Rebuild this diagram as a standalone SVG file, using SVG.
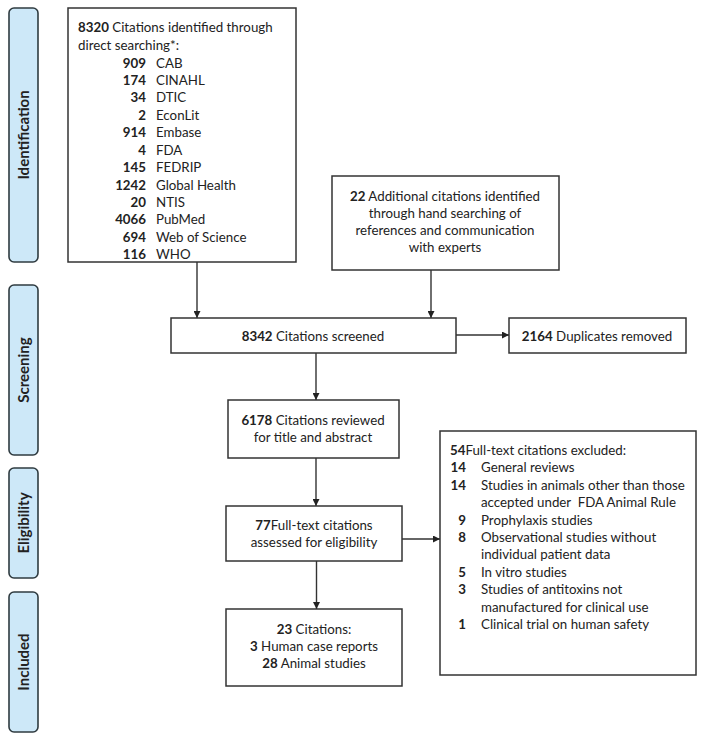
<svg xmlns="http://www.w3.org/2000/svg" width="704" height="741" viewBox="0 0 704 741">
<style>
.bg{fill:#ffffff}
.phase{fill:#cde8f8;stroke:#2f3b40;stroke-width:1.6}
.ph{font-family:Lato,"Liberation Sans",sans-serif;font-size:15px;font-weight:bold;fill:#222;text-anchor:middle}
.box{fill:#ffffff;stroke:#333;stroke-width:1.5}
.t{font-family:Lato,"Liberation Sans",sans-serif;font-size:13.3px;fill:#222}
.c{text-anchor:middle}
.e{text-anchor:end}
.b{font-weight:bold}
.ln{stroke:#333;stroke-width:1.4;fill:none}
</style>
<defs>
<marker id="ah" viewBox="0 0 10 10" refX="10" refY="5" markerWidth="7" markerHeight="7" markerUnits="userSpaceOnUse" orient="auto">
<path d="M0,0 L10,5 L0,10 z" fill="#222"/>
</marker>
</defs>
<rect class="bg" x="0" y="0" width="704" height="741"/>
<g id="phases">
<g id="phase-identification"><rect class="phase" x="9" y="8" width="29" height="254" rx="5"/><text class="ph" transform="translate(28.5,135) rotate(-90)">Identification</text></g>
<g id="phase-screening"><rect class="phase" x="9" y="285" width="29" height="170" rx="5"/><text class="ph" transform="translate(28.5,370) rotate(-90)">Screening</text></g>
<g id="phase-eligibility"><rect class="phase" x="9" y="468" width="29" height="110" rx="5"/><text class="ph" transform="translate(28.5,523) rotate(-90)">Eligibility</text></g>
<g id="phase-included"><rect class="phase" x="9" y="592" width="29" height="140" rx="5"/><text class="ph" transform="translate(28.5,662) rotate(-90)">Included</text></g>
</g>
<g id="connectors">
<line class="ln" x1="197" y1="262" x2="197" y2="318" marker-end="url(#ah)"/>
<line class="ln" x1="431" y1="270" x2="431" y2="318" marker-end="url(#ah)"/>
<line class="ln" x1="456" y1="335" x2="509" y2="335" marker-end="url(#ah)"/>
<line class="ln" x1="316" y1="353" x2="316" y2="400" marker-end="url(#ah)"/>
<line class="ln" x1="316" y1="458" x2="316" y2="506" marker-end="url(#ah)"/>
<line class="ln" x1="316.5" y1="561" x2="316.5" y2="609" marker-end="url(#ah)"/>
<line class="ln" x1="402" y1="539" x2="440" y2="539" marker-end="url(#ah)"/>
</g>
<g id="node-direct">
<rect class="box" x="68" y="8" width="228" height="254"/>
<text class="t" x="78" y="32"><tspan class="b">8320</tspan> Citations identified through</text>
<text class="t" x="78" y="50">direct searching*:</text>
<text class="t e b" x="146" y="67.5">909</text><text class="t" x="156" y="67.5">CAB</text>
<text class="t e b" x="146" y="85">174</text><text class="t" x="156" y="85">CINAHL</text>
<text class="t e b" x="146" y="102.3">34</text><text class="t" x="156" y="102.3">DTIC</text>
<text class="t e b" x="146" y="119.7">2</text><text class="t" x="156" y="119.7">EconLit</text>
<text class="t e b" x="146" y="137">914</text><text class="t" x="156" y="137">Embase</text>
<text class="t e b" x="146" y="154.5">4</text><text class="t" x="156" y="154.5">FDA</text>
<text class="t e b" x="146" y="172">145</text><text class="t" x="156" y="172">FEDRIP</text>
<text class="t e b" x="146" y="189.5">1242</text><text class="t" x="156" y="189.5">Global Health</text>
<text class="t e b" x="146" y="207">20</text><text class="t" x="156" y="207">NTIS</text>
<text class="t e b" x="146" y="224.3">4066</text><text class="t" x="156" y="224.3">PubMed</text>
<text class="t e b" x="146" y="241.7">694</text><text class="t" x="156" y="241.7">Web of Science</text>
<text class="t e b" x="146" y="259">116</text><text class="t" x="156" y="259">WHO</text>
</g>
<g id="node-additional">
<rect class="box" x="332" y="176" width="227" height="94"/>
<text class="t c" x="445" y="200.5"><tspan class="b">22</tspan> Additional citations identified</text>
<text class="t c" x="445" y="217.7">through hand searching of</text>
<text class="t c" x="445" y="235">references and communication</text>
<text class="t c" x="445" y="252">with experts</text>
</g>
<g id="node-screened">
<rect class="box" x="171" y="318" width="285" height="35"/>
<text class="t c" x="313" y="340.5"><tspan class="b">8342</tspan> Citations screened</text>
</g>
<g id="node-duplicates">
<rect class="box" x="509" y="318" width="177" height="35"/>
<text class="t c" x="597" y="340.5"><tspan class="b">2164</tspan> Duplicates removed</text>
</g>
<g id="node-reviewed">
<rect class="box" x="228" y="400" width="171" height="58"/>
<text class="t c" x="313" y="424.7"><tspan class="b">6178</tspan> Citations reviewed</text>
<text class="t c" x="313" y="441.7">for title and abstract</text>
</g>
<g id="node-fulltext">
<rect class="box" x="226" y="506" width="176" height="55"/>
<text class="t c" x="314" y="530"><tspan class="b">77</tspan>Full-text citations</text>
<text class="t c" x="314" y="547.3">assessed for eligibility</text>
</g>
<g id="node-included">
<rect class="box" x="226" y="609" width="176" height="77"/>
<text class="t c" x="314" y="634"><tspan class="b">23</tspan> Citations:</text>
<text class="t c" x="314" y="651.3"><tspan class="b">3</tspan> Human case reports</text>
<text class="t c" x="314" y="668.3"><tspan class="b">28</tspan> Animal studies</text>
</g>
<g id="node-excluded">
<rect class="box" x="440" y="431" width="256" height="244"/>
<text class="t" x="450" y="455"><tspan class="b">54</tspan>Full-text citations excluded:</text>
<text class="t e b" x="466" y="472.3">14</text><text class="t" x="481" y="472.3">General reviews</text>
<text class="t e b" x="466" y="490">14</text><text class="t" x="481" y="490">Studies in animals other than those</text>
<text class="t" x="481" y="507.3">accepted under&#160; FDA Animal Rule</text>
<text class="t e b" x="466" y="524.7">9</text><text class="t" x="481" y="524.7">Prophylaxis studies</text>
<text class="t e b" x="466" y="541.7">8</text><text class="t" x="481" y="541.7">Observational studies without</text>
<text class="t" x="481" y="559">individual patient data</text>
<text class="t e b" x="466" y="577">5</text><text class="t" x="481" y="577">In vitro studies</text>
<text class="t e b" x="466" y="594.3">3</text><text class="t" x="481" y="594.3">Studies of antitoxins not</text>
<text class="t" x="481" y="612">manufactured for clinical use</text>
<text class="t e b" x="466" y="629.3">1</text><text class="t" x="481" y="629.3">Clinical trial on human safety</text>
</g>
</svg>
